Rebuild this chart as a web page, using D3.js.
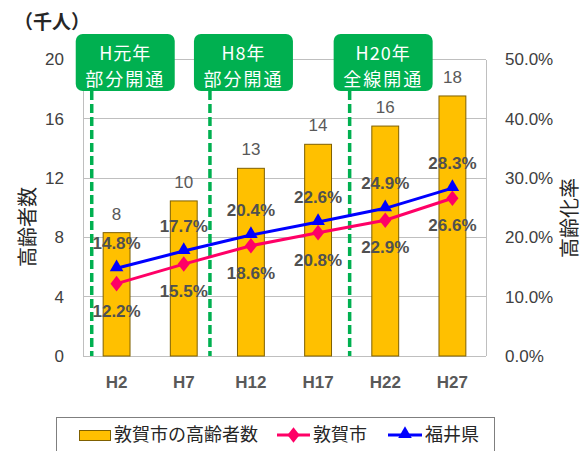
<!DOCTYPE html>
<html><head><meta charset="utf-8">
<script src="https://cdn.jsdelivr.net/npm/d3@7"></script>
<style>
html,body{margin:0;padding:0;background:#fff;}
svg{display:block;}
</style>
</head><body>
<svg id="chart" width="584" height="451"></svg>
<script>
// ---- data ----
const categories = ["H2","H7","H12","H17","H22","H27"];
const elderlyCount = [8.32, 10.46, 12.66, 14.28, 15.51, 17.54]; // 千人
const elderlyLabels = ["8","10","13","14","16","18"];
const tsurugaRate = [0.122, 0.155, 0.186, 0.208, 0.229, 0.266];
const fukuiRate = [0.148, 0.177, 0.204, 0.226, 0.249, 0.283];
const leftTicks = [0,4,8,12,16,20];
const rightTicks = [0,0.1,0.2,0.3,0.4,0.5];
const milestoneLine1 = ["H元年","H8年","H20年"];
const milestoneLine2 = ["部分開通","部分開通","全線開通"];
const milestonePos = [-0.37, 1.39, 3.47]; // position in category-index units
const legendLabels = ["敦賀市の高齢者数","敦賀市","福井県"];

const JP = "'Noto Sans CJK JP','Noto Sans',sans-serif";
const NUM = "'Liberation Sans',Arial,sans-serif";
const GREEN = "#00B050", ORANGE = "#FFC000", BAR_STROKE = "#7F6000";
const PINK = "#FF0066", BLUE = "#0000FF", GRID = "#BFBFBF";

const svg = d3.select("#chart");
const L = 83, R = 486, T = 59.5, B = 356;

const x = d3.scaleBand().domain(categories).range([L, R]).paddingInner(0.6).paddingOuter(0.3);
const yL = d3.scaleLinear().domain([0, 20]).range([B, T]);
const yR = d3.scaleLinear().domain([0, 0.5]).range([B, T]);
const cx = c => x(c) + x.bandwidth() / 2;
const idxX = d3.scaleLinear().domain([0, categories.length - 1]).range([cx(categories[0]), cx(categories[categories.length - 1])]);

// gridlines
svg.append("g").selectAll("line").data(leftTicks).join("line")
  .attr("x1", L).attr("x2", R).attr("y1", d => yL(d)).attr("y2", d => yL(d))
  .attr("stroke", GRID).attr("stroke-width", 1).attr("shape-rendering", "crispEdges");
svg.append("line").attr("x1", L).attr("x2", L).attr("y1", T).attr("y2", B).attr("stroke", GRID).attr("shape-rendering", "crispEdges");
svg.append("line").attr("x1", R).attr("x2", R).attr("y1", T).attr("y2", B).attr("stroke", GRID).attr("shape-rendering", "crispEdges");

// axes
const axL = svg.append("g").attr("transform", `translate(${L},0)`)
  .call(d3.axisLeft(yL).tickValues(leftTicks).tickSize(0).tickPadding(19));
const axR = svg.append("g").attr("transform", `translate(${R},0)`)
  .call(d3.axisRight(yR).tickValues(rightTicks).tickSize(0).tickPadding(19).tickFormat(d3.format(".1%")));
const axB = svg.append("g").attr("transform", `translate(0,${B})`)
  .call(d3.axisBottom(x).tickSize(0).tickPadding(20));
[axL, axR, axB].forEach(a => { a.select(".domain").remove(); });
axL.selectAll("text").attr("font-family", NUM).attr("font-size", 17).attr("fill", "#404040");
axR.selectAll("text").attr("font-family", NUM).attr("font-size", 17).attr("fill", "#404040");
axB.selectAll("text").attr("font-family", NUM).attr("font-size", 17).attr("font-weight", "bold").attr("fill", "#595959");

// bars
svg.append("g").selectAll("rect").data(elderlyCount).join("rect")
  .attr("x", (d, i) => x(categories[i])).attr("width", x.bandwidth())
  .attr("y", d => yL(d)).attr("height", d => B - yL(d))
  .attr("fill", ORANGE).attr("stroke", BAR_STROKE).attr("stroke-width", 1);

// bar labels
svg.append("g").selectAll("text").data(elderlyCount).join("text")
  .attr("x", (d, i) => cx(categories[i])).attr("y", d => yL(d) - 19).attr("dy", "0.35em")
  .attr("text-anchor", "middle").attr("font-family", NUM).attr("font-size", 17).attr("fill", "#595959")
  .text((d, i) => elderlyLabels[i]);

// milestone dashed lines
svg.append("g").selectAll("line").data(milestonePos).join("line")
  .attr("x1", d => idxX(d)).attr("x2", d => idxX(d)).attr("y1", 91).attr("y2", B)
  .attr("stroke", GREEN).attr("stroke-width", 3.5).attr("stroke-dasharray", "9,4");

// lines
const lineGen = d3.line().x((d, i) => cx(categories[i])).y(d => yR(d));
svg.append("path").datum(tsurugaRate).attr("d", lineGen).attr("fill", "none").attr("stroke", PINK).attr("stroke-width", 3);
svg.append("path").datum(fukuiRate).attr("d", lineGen).attr("fill", "none").attr("stroke", BLUE).attr("stroke-width", 3);

const diamond = d3.symbol().type(d3.symbolDiamond).size(70);
const tri = d3.symbol().type(d3.symbolTriangle).size(80);
svg.append("g").selectAll("path").data(tsurugaRate).join("path")
  .attr("d", diamond).attr("transform", (d, i) => `translate(${cx(categories[i])},${yR(d)}) scale(1.35,1)`)
  .attr("fill", PINK);
svg.append("g").selectAll("path").data(fukuiRate).join("path")
  .attr("d", tri).attr("transform", (d, i) => `translate(${cx(categories[i])},${yR(d) - 1})`)
  .attr("fill", BLUE);

// percent labels
const pct = d3.format(".1%");
svg.append("g").selectAll("text").data(fukuiRate).join("text")
  .attr("x", (d, i) => cx(categories[i])).attr("y", d => yR(d) - 25).attr("dy", "0.35em")
  .attr("text-anchor", "middle").attr("font-family", NUM).attr("font-size", 17).attr("font-weight", "bold").attr("fill", "#505050")
  .text(d => pct(d));
svg.append("g").selectAll("text").data(tsurugaRate).join("text")
  .attr("x", (d, i) => cx(categories[i])).attr("y", d => yR(d) + 27).attr("dy", "0.35em")
  .attr("text-anchor", "middle").attr("font-family", NUM).attr("font-size", 17).attr("font-weight", "bold").attr("fill", "#505050")
  .text(d => pct(d));

// milestone boxes
const mg = svg.append("g").selectAll("g").data(milestonePos).join("g")
  .attr("transform", d => `translate(${idxX(d) - 16},34)`);
mg.append("rect").attr("width", 99).attr("height", 57).attr("rx", 7).attr("fill", GREEN);
mg.append("text").attr("x", 49.5).attr("y", 20).attr("dy", "0.35em").attr("text-anchor", "middle")
  .attr("font-family", JP).attr("font-size", 18).attr("letter-spacing", 1).attr("fill", "#fff").text((d, i) => milestoneLine1[i]);
mg.append("text").attr("x", 49.5).attr("y", 46).attr("dy", "0.35em").attr("text-anchor", "middle")
  .attr("font-family", JP).attr("font-size", 18).attr("letter-spacing", 2).attr("fill", "#fff").text((d, i) => milestoneLine2[i]);

// unit label
svg.append("text").attr("x", 14).attr("y", 22).attr("dy", "0.35em").attr("font-family", JP)
  .attr("font-size", 19).attr("font-weight", "bold").attr("fill", "#262626").text("（千人）");

// axis titles
svg.append("text").attr("transform", "translate(28,227) rotate(-90)").attr("text-anchor", "middle").attr("dy", "0.35em")
  .attr("font-family", JP).attr("font-size", 20).attr("fill", "#262626").text("高齢者数");
svg.append("text").attr("transform", "translate(570,218) rotate(-90)").attr("text-anchor", "middle").attr("dy", "0.35em")
  .attr("font-family", JP).attr("font-size", 20).attr("fill", "#262626").text("高齢化率");

// legend
const lg = svg.append("g");
lg.append("rect").attr("x", 56.5).attr("y", 417.5).attr("width", 438).attr("height", 40).attr("fill", "#fff").attr("stroke", "#7F7F7F");
const ly = 435;
lg.append("rect").attr("x", 79.5).attr("y", 430.5).attr("width", 31).attr("height", 10).attr("fill", ORANGE).attr("stroke", BAR_STROKE);
lg.append("line").attr("x1", 277).attr("x2", 310).attr("y1", ly).attr("y2", ly).attr("stroke", PINK).attr("stroke-width", 3);
lg.append("path").attr("d", diamond).attr("transform", `translate(293.5,${ly}) scale(1.35,1)`).attr("fill", PINK);
lg.append("line").attr("x1", 388).attr("x2", 422).attr("y1", ly).attr("y2", ly).attr("stroke", BLUE).attr("stroke-width", 3);
lg.append("path").attr("d", tri).attr("transform", `translate(405,${ly - 1})`).attr("fill", BLUE);
const lx = [114, 313, 425];
lg.selectAll("text").data(legendLabels).join("text")
  .attr("x", (d, i) => lx[i]).attr("y", ly).attr("dy", "0.35em")
  .attr("font-family", JP).attr("font-size", 18).attr("fill", "#262626").text(d => d);
</script>
</body></html>
